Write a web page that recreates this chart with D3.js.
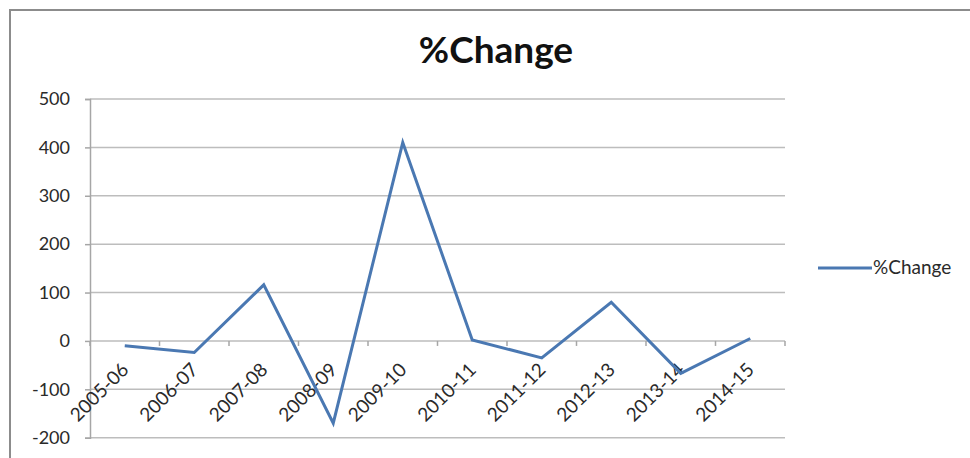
<!DOCTYPE html>
<html>
<head>
<meta charset="utf-8">
<script src="https://cdn.jsdelivr.net/npm/d3@7"></script>
<style>
  html, body { margin: 0; padding: 0; background: #fff; }
  svg { display: block; }
</style>
</head>
<body>
<svg id="chart" width="970" height="458"></svg>
<script>
// Fiscal years and their percentage change
const years = ["2005-06", "2006-07", "2007-08", "2008-09", "2009-10",
               "2010-11", "2011-12", "2012-13", "2013-14", "2014-15"];
const pctChange = [-10, -24, 116, -170, 410, 2, -35, 80, -67, 5];
const yTicks = [-200, -100, 0, 100, 200, 300, 400, 500];
const seriesName = "%Change";

const svg = d3.select("#chart");
const font = "Lato, 'Open Sans', sans-serif";
const lineColor = "#4a78b2";
const textColor = "#2a2a2a";

// outer chart frame
svg.append("rect")
  .attr("x", 10).attr("y", 10)
  .attr("width", 1000).attr("height", 500)
  .attr("fill", "#fff")
  .attr("stroke", "#8c8c8c").attr("stroke-width", 2);

const plot = { left: 90, right: 785, top: 99, bottom: 437.7 };

const x = d3.scaleBand().domain(years).range([plot.left, plot.right]);
const y = d3.scaleLinear().domain([-200, 500]).range([plot.bottom, plot.top]);

// title
svg.append("text")
  .attr("x", 496).attr("y", 63)
  .attr("text-anchor", "middle")
  .attr("font-family", font).attr("font-weight", "bold")
  .attr("font-size", 37).attr("fill", "#111")
  .text(seriesName);

// horizontal gridlines
svg.append("g")
  .selectAll("line").data(yTicks).join("line")
  .attr("x1", plot.left).attr("x2", plot.right)
  .attr("y1", d => y(d)).attr("y2", d => y(d))
  .attr("stroke", "#bdbdbd").attr("stroke-width", 1.5);

// y axis
const yAxis = svg.append("g")
  .attr("transform", `translate(${plot.left},0)`)
  .call(d3.axisLeft(y).tickValues(yTicks).tickSize(5).tickPadding(15)
    .tickFormat(d => String(d)));
yAxis.select(".domain").attr("stroke", "#a6a6a6").attr("stroke-width", 1.5);
yAxis.selectAll(".tick line").attr("stroke", "#a6a6a6").attr("stroke-width", 1.5);
yAxis.selectAll("text")
  .attr("font-family", font).attr("font-size", 18).attr("fill", textColor);

// category axis along zero
const boundaries = years.map(d => x(d)).concat([plot.right]);
svg.append("g")
  .selectAll("line").data(boundaries).join("line")
  .attr("x1", d => d).attr("x2", d => d)
  .attr("y1", y(0)).attr("y2", y(0) + 5)
  .attr("stroke", "#a6a6a6").attr("stroke-width", 1.5);

svg.append("g")
  .selectAll("text").data(years).join("text")
  .attr("transform", d => `translate(${x(d) + x.bandwidth() / 2 + 5},${y(0) + 30}) rotate(-45)`)
  .attr("text-anchor", "end")
  .attr("font-family", font).attr("font-size", 19).attr("fill", textColor)
  .text(d => d);

// data line
const line = d3.line()
  .x((d, i) => x(years[i]) + x.bandwidth() / 2)
  .y(d => y(d));

svg.append("path")
  .datum(pctChange)
  .attr("d", line)
  .attr("fill", "none")
  .attr("stroke", lineColor)
  .attr("stroke-width", 3)
  .attr("stroke-linejoin", "miter");

// legend
const legend = svg.append("g").attr("transform", "translate(818,268)");
legend.append("line")
  .attr("x1", 0).attr("x2", 54).attr("y1", 0).attr("y2", 0)
  .attr("stroke", lineColor).attr("stroke-width", 3);
legend.append("text")
  .attr("x", 55).attr("y", 6)
  .attr("font-family", font).attr("font-size", 19).attr("fill", textColor)
  .text(seriesName);
</script>
</body>
</html>
